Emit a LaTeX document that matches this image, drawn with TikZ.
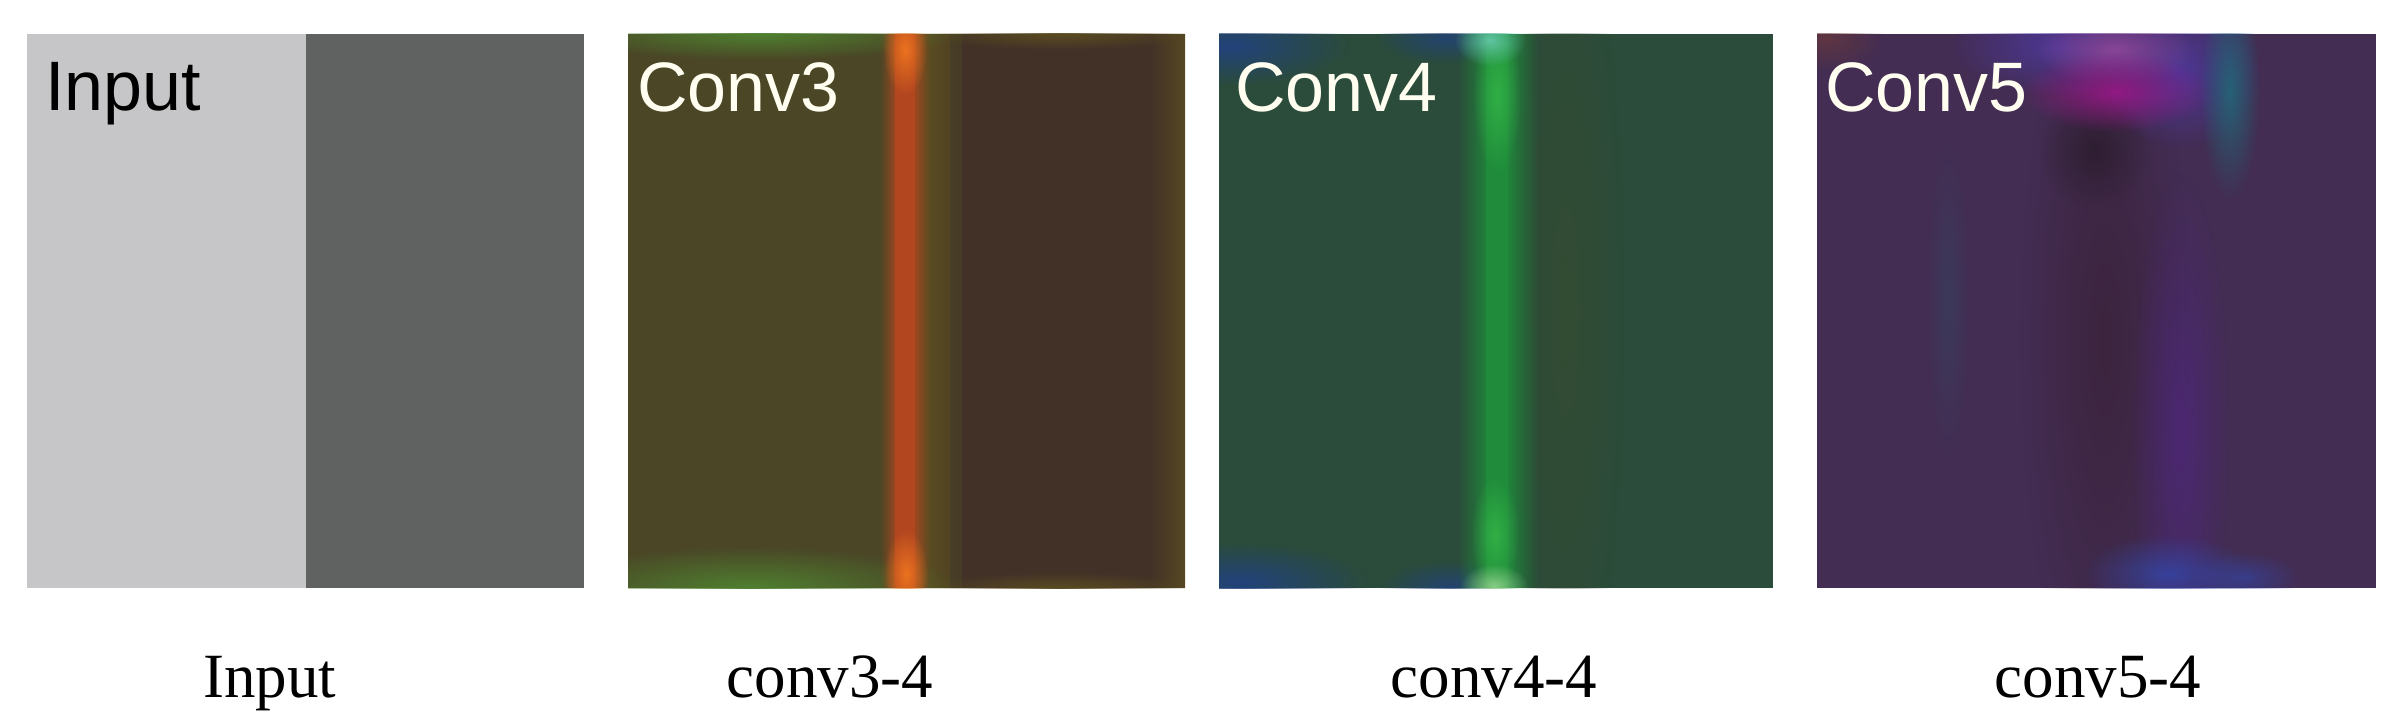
\documentclass[tikz,border=0pt]{standalone}
\usepackage{fontspec}
\setmainfont{Liberation Serif}
\newfontfamily\arialfont{Liberation Sans}
\usetikzlibrary{fadings}
\definecolor{inL}{HTML}{C6C6C8}
\definecolor{inD}{HTML}{5F6261}
\definecolor{cOlive}{HTML}{4A4626}
\definecolor{cOliveY}{HTML}{594C22}
\definecolor{cBrown}{HTML}{423127}
\definecolor{cStripe}{HTML}{B2461F}
\definecolor{cGlow}{HTML}{F57A20}
\definecolor{cGreen}{HTML}{4F8030}
\definecolor{dBg}{HTML}{2B4C3A}
\definecolor{dRight}{HTML}{334B33}
\definecolor{dStripe}{HTML}{1F8B3B}
\definecolor{dBright}{HTML}{35B848}
\definecolor{dCyan}{HTML}{6ACCB4}
\definecolor{dPale}{HTML}{9AD894}
\definecolor{dBlue}{HTML}{22427C}
\definecolor{eBg}{HTML}{432D53}
\definecolor{eViolet}{HTML}{4E3AA6}
\definecolor{ePink}{HTML}{9A4AA0}
\definecolor{eMag}{HTML}{A0168C}
\definecolor{eTeal}{HTML}{1E6E7A}
\definecolor{eDark}{HTML}{2A1C2C}
\definecolor{eDarkCol}{HTML}{3A2238}
\definecolor{ePurple}{HTML}{522488}
\definecolor{eBlue}{HTML}{3347AA}
\definecolor{eRed}{HTML}{6B3A3A}
\tikzfading[name=blobfade, inner color=transparent!0, outer color=transparent!100]
\tikzfading[name=fadeToR, left color=transparent!0, right color=transparent!100]
\tikzfading[name=fadeToL, left color=transparent!100, right color=transparent!0]
\tikzset{
  inlbl/.style={font=\arialfont\fontsize{70}{84}\selectfont, inner sep=0pt, anchor=base west},
  botlbl/.style={font=\fontsize{63}{76}\selectfont, inner sep=0pt, anchor=base, text=black},
  blob/.style={fill=#1, path fading=blobfade},
  rgrad/.style={fill=#1, path fading=fadeToL},
  lgrad/.style={fill=#1, path fading=fadeToR}
}
\begin{document}
\begin{tikzpicture}[x=1pt,y=-1pt]
\useasboundingbox[fill=white] (0,0) rectangle (2395,725);

% ---------- Input panel
\fill[inL] (27,34) rectangle (306,588);
\fill[inD] (306,34) rectangle (584,588);

% ---------- Conv3 panel
\begin{scope}
\clip (628,34) rectangle (1185,588);
\fill[cOlive] (628,34) rectangle (1185,588);
\fill[cOliveY] (912,34) rectangle (950,588);
\fill[cBrown] (962,34) rectangle (1185,588);
\fill[rgrad=cBrown] (930,34) rectangle (990,588);
\fill[rgrad=cOliveY] (1150,34) rectangle (1190,588);
\fill[blob=cOliveY] (1060,34) ellipse (140 and 16);
\fill[blob=cOliveY] (1060,588) ellipse (140 and 16);
\fill[blob=cGreen] (760,34) ellipse (200 and 26);
\fill[blob=cGreen] (750,588) ellipse (210 and 42);
\fill[rgrad=cStripe] (880,34) rectangle (900,588);
\fill[cStripe] (895,34) rectangle (915,588);
\fill[lgrad=cStripe] (910,34) rectangle (930,588);
\fill[blob=cGlow, fill opacity=0.85] (905,50) ellipse (22 and 45);
\fill[blob=cGlow, fill opacity=0.85] (906,574) ellipse (22 and 45);
\end{scope}

% ---------- Conv4 panel
\begin{scope}
\clip (1219,34) rectangle (1773,588);
\fill[dBg] (1219,34) rectangle (1773,588);
\fill[blob=dRight] (1565,311) ellipse (60 and 420);
\fill[blob=dBlue] (1230,46) ellipse (120 and 40);
\fill[blob=dBlue] (1240,582) ellipse (130 and 40);
\fill[blob=dBlue, fill opacity=0.8] (1445,38) ellipse (70 and 26);
\fill[blob=dBlue, fill opacity=0.8] (1450,586) ellipse (70 and 26);
\fill[rgrad=dStripe] (1458,34) rectangle (1492,588);
\fill[dStripe] (1486,34) rectangle (1508,588);
\fill[lgrad=dStripe] (1504,34) rectangle (1538,588);
\fill[blob=dBright, fill opacity=0.8] (1497,95) ellipse (24 and 80);
\fill[blob=dBright, fill opacity=0.8] (1495,535) ellipse (24 and 60);
\fill[blob=dCyan, fill opacity=0.85] (1490,40) ellipse (36 and 26);
\fill[blob=dPale, fill opacity=0.85] (1494,586) ellipse (34 and 22);
\end{scope}

% ---------- Conv5 panel
\begin{scope}
\clip (1817,34) rectangle (2376,588);
\fill[eBg] (1817,34) rectangle (2376,588);
\fill[blob=eRed, fill opacity=0.7] (1825,38) ellipse (60 and 34);
\fill[blob=eDarkCol, fill opacity=0.8] (2105,340) ellipse (85 and 380);
\fill[blob=eDark, fill opacity=0.8] (2094,150) ellipse (55 and 60);
\fill[blob=eViolet, fill opacity=0.8] (2060,46) ellipse (110 and 50);
\fill[blob=eViolet, fill opacity=0.8] (2180,70) ellipse (80 and 80);
\fill[blob=ePink, fill opacity=0.8] (2115,50) ellipse (80 and 36);
\fill[blob=eMag, fill opacity=0.85] (2115,92) ellipse (95 and 40);
\fill[blob=eTeal, fill opacity=0.8] (2230,90) ellipse (30 and 110);
\fill[blob=ePurple, fill opacity=0.6] (2180,430) ellipse (50 and 260);
\fill[blob=eBlue, fill opacity=0.8] (2168,574) ellipse (85 and 40);
\fill[blob=eBlue, fill opacity=0.6] (2245,578) ellipse (55 and 26);
\fill[blob=eTeal!40!eBg, fill opacity=0.5] (1948,300) ellipse (22 and 160);
\end{scope}

% ---------- inner labels
\node[inlbl, text=black] (tin) at (45,110) {Input};
\node[inlbl, text=white!94!yellow] (tc3) at (637,111) {Conv3};
\node[inlbl, text=white!94!yellow] (tc4) at (1235,111) {Conv4};
\node[inlbl, text=white!94!yellow] (tc5) at (1825,111) {Conv5};

% ---------- captions
\node[botlbl] (lin) at (270,697) {Input};
\node[botlbl] (l3) at (830,697) {conv3-4};
\node[botlbl] (l4) at (1494,697) {conv4-4};
\node[botlbl] (l5) at (2098,697) {conv5-4};
\end{tikzpicture}
\end{document}
